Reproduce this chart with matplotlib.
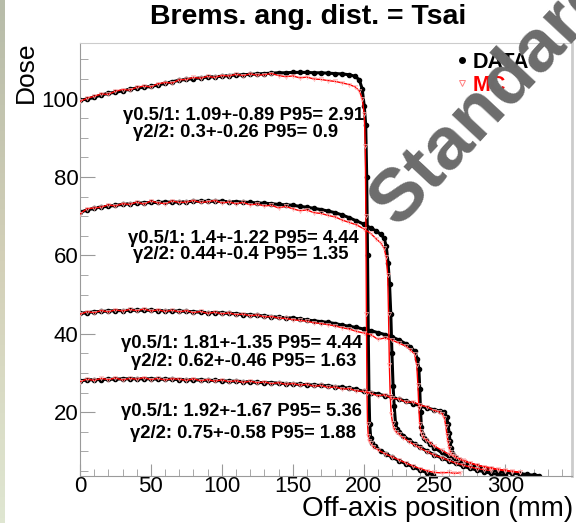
import matplotlib
matplotlib.use('Agg')
import matplotlib.pyplot as plt
import numpy as np
from matplotlib.lines import Line2D
from matplotlib.ticker import MultipleLocator
from matplotlib.colors import LinearSegmentedColormap

plt.rcParams['font.family'] = ['Liberation Sans', 'DejaVu Sans']

# profiles (off-axis mm, dose) -- measured (DATA) and simulated (MC)
x_d1 = [0, 5, 10, 15, 20, 25, 30, 35, 40, 45, 50, 55, 60, 65, 70, 75, 80, 85, 90, 95,
        100, 105, 110, 115, 120, 125, 130, 135, 140, 145, 150, 155, 160, 165, 170, 175,
        180, 185, 190, 194, 197, 199, 200.5, 201.5, 202.2, 202.8, 203.3, 203.8, 204.3,
        205, 206, 208, 212, 216, 220, 225, 230, 235, 240, 245, 249]
y_d1 = [99.6, 99.9, 100.4, 100.9, 101.4, 101.6, 102.0, 102.4, 102.7, 102.9, 103.1, 103.5,
        103.9, 104.3, 104.7, 104.9, 105.1, 105.3, 105.5, 105.6, 105.7, 105.9, 106.0, 106.1,
        106.2, 106.3, 106.4, 106.5, 106.6, 106.6, 106.7, 106.7, 106.7, 106.6, 106.6, 106.5,
        106.4, 106.3, 106.1, 105.7, 104.8, 102.5, 98.0, 93.4, 80, 60, 40, 25, 17,
        13.5, 12.2, 11.3, 10.2, 9.3, 8.5, 7.6, 6.8, 6.0, 5.2, 4.5, 4.0]
x_m1 = [0, 5, 10, 15, 20, 25, 30, 35, 40, 45, 50, 55, 60, 65, 70, 75, 80, 85, 90, 95,
        100, 105, 110, 115, 120, 125, 130, 135, 140, 145, 150, 155, 160, 165, 170, 175,
        180, 185, 190, 194, 197, 199, 200.5, 201.2, 201.6, 202.0, 202.4, 202.8, 203.3,
        204, 205, 207, 210, 215, 220, 225, 230, 235, 240, 245, 250, 255, 260, 264, 268]
y_m1 = [99.3, 100.1, 100.6, 101.2, 101.1, 101.9, 102.3, 102.2, 102.9, 103.2, 103.0, 103.8,
        104.1, 104.0, 104.8, 104.9, 105.4, 105.2, 105.7, 105.4, 105.9, 105.8, 106.2, 105.9,
        106.3, 106.0, 106.1, 106.4, 105.9, 105.6, 105.8, 105.3, 105.5, 105.0, 104.9, 104.6,
        104.4, 104.0, 103.6, 103.0, 102.0, 100.0, 96.0, 88.0, 70, 45, 25, 17, 14,
        12.6, 12.0, 11.2, 10.4, 9.4, 8.6, 7.8, 7.0, 6.2, 5.6, 5.0, 4.6, 4.5, 4.6, 4.4, 4.5]

x_d2 = [0, 5, 10, 15, 20, 25, 30, 35, 40, 45, 50, 55, 60, 65, 70, 75, 80, 85, 90, 95,
        100, 105, 110, 115, 120, 125, 130, 135, 140, 145, 150, 155, 160, 165, 170, 175,
        180, 185, 190, 195, 200, 205, 209, 212, 214.5, 216, 217.3, 218.3, 219.2, 220,
        220.8, 221.6, 222.5, 223.5, 225, 228, 232, 236, 240, 245, 250, 255, 260, 265,
        270, 275, 280, 285, 290, 295, 300]
y_d2 = [71.0, 71.6, 72.0, 72.4, 72.5, 72.8, 73.0, 73.2, 73.3, 73.4, 73.5, 73.5, 73.6, 73.6,
        73.6, 73.7, 73.8, 73.8, 73.8, 73.8, 73.8, 73.7, 73.7, 73.6, 73.5, 73.4, 73.3, 73.2,
        73.0, 72.9, 72.8, 72.5, 72.3, 72.0, 71.7, 71.3, 70.9, 70.3, 69.6, 68.8, 68.0, 67.0,
        66.2, 65.4, 64.4, 62.3, 58.0, 52.7, 45, 35, 26.7, 21.5, 17.3, 15.8, 15.0, 14.0,
        12.9, 11.9, 11.0, 10.0, 9.1, 8.3, 7.6, 6.9, 6.2, 5.7, 5.2, 4.8, 4.4, 4.1, 3.9]
x_m2 = [0, 5, 10, 15, 20, 25, 30, 35, 40, 45, 50, 55, 60, 65, 70, 75, 80, 85, 90, 95,
        100, 105, 110, 115, 120, 125, 130, 135, 140, 145, 150, 155, 160, 165, 170, 175,
        180, 185, 190, 195, 200, 205, 209, 212, 214.5, 216, 217, 217.6, 218.2, 218.8,
        219.5, 220.5, 221.5, 223, 225, 228, 232, 236, 240, 245, 250, 255, 260, 265, 270,
        275, 280, 285, 290]
y_m2 = [70.6, 71.9, 72.1, 72.3, 72.9, 72.6, 73.2, 73.0, 73.6, 73.1, 73.9, 73.4, 73.2, 73.9,
        73.5, 73.6, 74.0, 73.5, 73.7, 74.0, 73.4, 73.6, 73.2, 73.5, 72.9, 73.1, 72.6, 72.8,
        72.1, 72.5, 71.9, 71.4, 71.6, 70.9, 70.7, 70.2, 69.8, 69.0, 68.4, 67.8, 66.8, 65.6,
        64.2, 63.2, 61.8, 59.5, 55, 45, 32, 24, 19.5, 17.2, 15.8, 15.0, 14.4, 13.5, 12.5,
        11.6, 10.8, 9.9, 9.0, 8.4, 7.7, 7.0, 6.5, 6.0, 5.6, 5.3, 5.1]

x_d3 = [0, 5, 10, 15, 20, 25, 30, 35, 40, 45, 50, 55, 60, 65, 70, 75, 80, 85, 90, 95,
        100, 105, 110, 115, 120, 125, 130, 135, 140, 145, 150, 155, 160, 165, 170, 175,
        180, 185, 190, 195, 200, 205, 210, 215, 220, 225, 230, 233, 236, 238, 239, 239.6,
        240.2, 240.8, 241.5, 242.5, 244, 247, 250, 255, 260, 265, 270, 275, 280, 285,
        290, 295, 300, 305, 310, 315]
y_d3 = [45.2, 45.4, 45.6, 45.7, 45.8, 45.9, 45.9, 46.0, 46.0, 46.0, 46.0, 45.9, 45.9, 45.8,
        45.8, 45.7, 45.6, 45.5, 45.4, 45.4, 45.3, 45.2, 45.1, 44.9, 44.8, 44.7, 44.5, 44.4,
        44.2, 44.1, 44.0, 43.8, 43.5, 43.3, 43.1, 42.9, 42.6, 42.2, 41.9, 41.6, 41.2, 40.8,
        40.3, 39.8, 39.2, 38.4, 37.4, 36.6, 35.6, 33.5, 31.0, 26, 20, 16.2, 14.5, 13.5,
        12.8, 11.8, 10.9, 9.7, 8.7, 7.9, 7.2, 6.6, 6.0, 5.6, 5.2, 4.9, 4.6, 4.4, 4.2, 4.0]
x_m3 = [0, 5, 10, 15, 20, 25, 30, 35, 40, 45, 50, 55, 60, 65, 70, 75, 80, 85, 90, 95,
        100, 105, 110, 115, 120, 125, 130, 135, 140, 145, 150, 155, 160, 165, 170, 175,
        180, 185, 190, 195, 200, 205, 210, 215, 220, 225, 230, 233, 236, 237.5, 238.3,
        239, 239.6, 240.3, 241, 242, 244, 247, 250, 255, 260, 265, 270, 275, 280, 285,
        290, 295, 300, 305, 310]
y_m3 = [45.0, 45.6, 45.4, 45.9, 45.6, 46.1, 45.8, 46.2, 45.9, 46.3, 45.8, 46.1, 45.7, 46.0,
        45.6, 45.9, 45.4, 45.7, 45.2, 45.5, 45.1, 45.3, 44.9, 45.0, 44.6, 44.8, 44.3, 44.4,
        44.0, 43.9, 43.6, 43.4, 43.2, 42.8, 42.6, 42.3, 42.0, 41.5, 41.2, 40.6, 40.2, 39.8,
        38.6, 38.9, 38.4, 37.6, 36.8, 35.9, 34.8, 32.0, 27, 21, 17, 15.2, 14.3, 13.6,
        13.0, 12.2, 11.3, 10.3, 9.3, 8.5, 7.8, 7.1, 6.5, 6.0, 5.6, 5.3, 5.0, 4.8, 4.6]

x_d4 = [0, 5, 10, 15, 20, 25, 30, 35, 40, 45, 50, 55, 60, 65, 70, 75, 80, 85, 90, 95,
        100, 105, 110, 115, 120, 125, 130, 135, 140, 145, 150, 155, 160, 165, 170, 175,
        180, 185, 190, 195, 200, 205, 210, 215, 220, 225, 230, 235, 240, 245, 250, 254,
        257, 258.5, 259.5, 260.3, 261, 261.7, 262.5, 263.5, 265, 268, 272, 276, 280, 285,
        290, 295, 300, 305, 310, 315, 320, 324]
y_d4 = [28.0, 28.2, 28.3, 28.3, 28.4, 28.4, 28.5, 28.5, 28.5, 28.5, 28.5, 28.4, 28.4, 28.4,
        28.3, 28.3, 28.2, 28.2, 28.1, 28.1, 28.0, 27.9, 27.9, 27.8, 27.7, 27.6, 27.5, 27.5,
        27.4, 27.3, 27.2, 27.1, 27.0, 26.9, 26.8, 26.7, 26.5, 26.3, 26.1, 25.8, 25.3, 25.0,
        24.6, 24.2, 23.8, 23.3, 22.8, 22.2, 21.6, 21.0, 20.6, 20.3, 20.0, 18.8, 17, 14.8,
        12.6, 10.8, 9.5, 8.8, 8.3, 7.7, 7.1, 6.6, 6.2, 5.8, 5.4, 5.1, 4.8, 4.5, 4.3, 4.1,
        3.9, 3.8]
x_m4 = [0, 5, 10, 15, 20, 25, 30, 35, 40, 45, 50, 55, 60, 65, 70, 75, 80, 85, 90, 95,
        100, 105, 110, 115, 120, 125, 130, 135, 140, 145, 150, 155, 160, 165, 170, 175,
        180, 185, 190, 195, 200, 205, 210, 215, 220, 225, 230, 235, 240, 245, 250, 253,
        255.5, 257, 258, 258.8, 259.6, 260.4, 261.2, 262.5, 264, 267, 271, 275, 280, 285,
        290, 295, 300, 305, 310]
y_m4 = [27.8, 28.4, 28.1, 28.6, 28.3, 28.7, 28.2, 28.6, 28.4, 28.8, 28.3, 28.6, 28.2, 28.5,
        28.4, 28.1, 28.5, 28.0, 28.3, 27.9, 28.2, 27.8, 28.0, 27.6, 27.9, 27.5, 27.7, 27.3,
        27.5, 27.1, 27.3, 26.9, 27.1, 26.6, 26.8, 26.3, 26.4, 25.9, 26.0, 25.4, 25.3, 24.8,
        24.2, 24.4, 23.5, 23.4, 22.5, 22.6, 21.8, 21.3, 20.4, 20.1, 19.6, 18.5, 16.5, 14.2,
        12.3, 10.9, 9.9, 9.2, 8.7, 8.1, 7.5, 7.0, 6.5, 6.1, 5.8, 5.4, 5.2, 4.9, 4.7]

profiles = [(x_d1, y_d1, x_m1, y_m1), (x_d2, y_d2, x_m2, y_m2),
            (x_d3, y_d3, x_m3, y_m3), (x_d4, y_d4, x_m4, y_m4)]

# gamma index results per profile
gamma_lines = [("γ0.5/1: 1.09+-0.89 P95= 2.91", "γ2/2: 0.3+-0.26 P95= 0.9"),
               ("γ0.5/1: 1.4+-1.22 P95= 4.44", "γ2/2: 0.44+-0.4 P95= 1.35"),
               ("γ0.5/1: 1.81+-1.35 P95= 4.44", "γ2/2: 0.62+-0.46 P95= 1.63"),
               ("γ0.5/1: 1.92+-1.67 P95= 5.36", "γ2/2: 0.75+-0.58 P95= 1.88")]
gamma_pos = [((30.3, 95.7), (37.3, 91.3)),
             ((33.8, 64.4), (37.3, 60.1)),
             ((28.9, 37.4), (35.9, 32.8)),
             ((28.9, 20.1), (35.2, 14.5))]

fig = plt.figure(figsize=(5.76, 5.23), dpi=100)
fig.patch.set_facecolor('white')

# slide strip on the left edge
strip = fig.add_axes([0, 0, 5 / 576, 1])
grad = np.linspace(0, 1, 100).reshape(-1, 1)
strip.imshow(grad, aspect='auto',
             cmap=LinearSegmentedColormap.from_list('s', ['#b7bca9', '#d3d0b8', '#dfe6d1']))
strip.axis('off')

ax = fig.add_axes([80 / 576, 1 - 476 / 523, 492 / 576, 433 / 523])

for xd, yd, xm, ym in profiles:
    ax.plot(xd, yd, '-', color='black', lw=2.2, marker='o', ms=3.0, zorder=2)
    ax.plot(xm, ym, '-', color='red', lw=1.0, marker='v', ms=3, mfc='none',
            mec='#ffb4b4', mew=0.5, zorder=3)

for (l1, l2), (p1, p2) in zip(gamma_lines, gamma_pos):
    ax.text(p1[0], p1[1], l1, fontsize=13.3, fontweight='bold', va='center', ha='left')
    ax.text(p2[0], p2[1], l2, fontsize=13.3, fontweight='bold', va='center', ha='left')

ax.set_xlim(0, 347)
ax.set_ylim(3.7, 114.2)
ax.xaxis.set_major_locator(MultipleLocator(50))
ax.xaxis.set_minor_locator(MultipleLocator(10))
ax.yaxis.set_major_locator(MultipleLocator(20))
ax.yaxis.set_minor_locator(MultipleLocator(5))
ax.tick_params(axis='both', which='both', direction='in', color='#9a9a9a', labelsize=16)
ax.tick_params(axis='y', which='major', length=11)
ax.tick_params(axis='y', which='minor', length=6)
ax.tick_params(axis='x', which='major', length=9)
ax.tick_params(axis='x', which='minor', length=5)
ax.tick_params(axis='x', pad=0)
ax.tick_params(axis='y', pad=1)
for side in ['left', 'bottom']:
    ax.spines[side].set_color('#9a9a9a')
for side in ['top', 'right']:
    ax.spines[side].set_color('#cccccc')
ax.spines['right'].set_linewidth(2)

fig.text(308 / 576, 1 - 17 / 523, 'Brems. ang. dist. = Tsai', fontsize=20.5,
         fontweight='bold', ha='center', va='center')
fig.text(26 / 576, 1 - 72 / 523, 'Dose', fontsize=19, rotation=90,
         ha='center', va='center')
fig.text(573 / 576, 1 - 522 / 523, 'Off-axis position (mm)', fontsize=20,
         ha='right', va='bottom')

handles = [Line2D([], [], ls='none', marker='o', ms=4, color='black'),
           Line2D([], [], ls='none', marker='v', ms=4, mfc='none', mec='#ff8080', mew=0.7)]
ax.legend(handles, ['DATA', 'MC'], loc='upper left', bbox_to_anchor=(0.745, 1.005),
          frameon=False, handlelength=0.4, handletextpad=0.3, labelspacing=0.1,
          borderpad=0, prop={'weight': 'bold', 'size': 15.5}, labelcolor=['black', 'red'])

fig.text(397 / 576, 1 - 228 / 523, 'Standard', fontsize=54, fontweight='bold',
         color='#6c6c6c', rotation=47, rotation_mode='anchor', ha='left', va='baseline',
         zorder=10)

fig.savefig('out.png', dpi=100)
